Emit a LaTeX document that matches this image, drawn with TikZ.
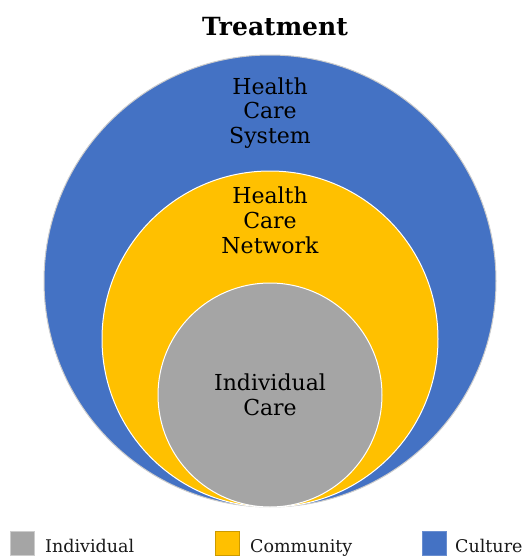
\documentclass[tikz,border=0pt]{standalone}
\usepackage{fontspec}
\setmainfont{DejaVu Serif}
\definecolor{cblue}{HTML}{4472C4}
\definecolor{cyellow}{HTML}{FFC000}
\definecolor{cgray}{HTML}{A5A5A5}
\begin{document}
\begin{tikzpicture}[x=1pt,y=-1pt,
  ring/.style={line width=1pt},
  lbl/.style={anchor=base,inner sep=0pt,font=\fontsize{22}{24}\selectfont,text=black},
  leg/.style={anchor=base west,inner sep=0pt,font=\fontsize{17.5}{20}\selectfont,text=black!90},
  legbox/.style={minimum size=24pt,inner sep=0pt,line width=0.6pt}]
\useasboundingbox (0,0) rectangle (529,557);
% circles
\node[ring,circle,fill=cblue,draw=black!20,minimum size=452pt,inner sep=0pt] (culture) at (270,281) {};
\node[ring,circle,fill=cyellow,draw=white,minimum size=336pt,inner sep=0pt] (community) at (270,339) {};
\node[ring,circle,fill=cgray,draw=white,minimum size=224pt,inner sep=0pt] (individual) at (270,395) {};
% title
\node[anchor=base,inner sep=0pt,font=\fontsize{25}{28}\selectfont\bfseries] (title) at (275,35) {Treatment};
% labels
\node[lbl] (s1) at (270,94) {Health};
\node[lbl] (s2) at (270,118.5) {Care};
\node[lbl] (s3) at (270,143) {System};
\node[lbl] (n1) at (270,203) {Health};
\node[lbl] (n2) at (270,228) {Care};
\node[lbl] (n3) at (270,253) {Network};
\node[lbl] (i1) at (270,390) {Individual};
\node[lbl] (i2) at (270,415) {Care};
% legend
\node[legbox,fill=cgray,draw=black!20] (k1) at (22.5,543) {};
\node[leg] (t1) at (45,552) {Individual};
\node[legbox,fill=cyellow,draw=cyellow!80!black] (k2) at (227.5,543) {};
\node[leg] (t2) at (250,552) {Community};
\node[legbox,fill=cblue,draw=cblue!80!white] (k3) at (434.5,543) {};
\node[leg] (t3) at (455,552) {Culture};
\end{tikzpicture}
\end{document}
